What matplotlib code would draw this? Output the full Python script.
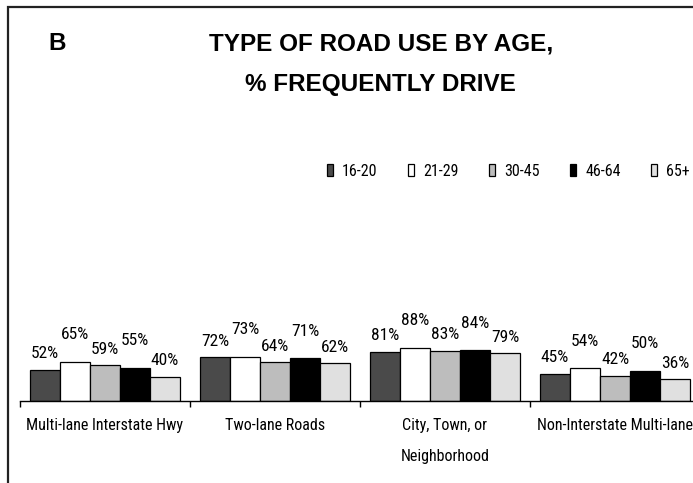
import matplotlib
matplotlib.use("Agg")
import matplotlib.pyplot as plt
from matplotlib.patches import Rectangle
import numpy as np

categories = ["Multi-lane Interstate Hwy", "Two-lane Roads", "City, Town, or\nNeighborhood", "Non-Interstate Multi-lane"]
age_groups = ["16-20", "21-29", "30-45", "46-64", "65+"]
values = {
    "16-20": [52, 72, 81, 45],
    "21-29": [65, 73, 88, 54],
    "30-45": [59, 64, 83, 42],
    "46-64": [55, 71, 84, 50],
    "65+":   [40, 62, 79, 36],
}
colors = ["#4a4a4a", "#ffffff", "#bdbdbd", "#000000", "#e0e0e0"]

plt.rcParams["font.family"] = ["Roboto Condensed", "DejaVu Sans"]
TITLE_FONT = ["Liberation Sans", "DejaVu Sans"]

W, H = 693, 483
fig = plt.figure(figsize=(W / 100, H / 100), dpi=100)

# axes: x from 20px to 700px, baseline at y=401px, 0.605 px per %
ax = fig.add_axes([20 / W, (H - 401) / H, 680 / W, 60.5 / H])

x = np.arange(len(categories))
bw = 0.1765
handles = []
for j, (g, c) in enumerate(zip(age_groups, colors)):
    pos = x + (j - 2) * bw
    bars = ax.bar(pos, values[g], width=bw, color=c, edgecolor="black", linewidth=0.9, label=g)
    handles.append(bars)
    off = 16 if j % 2 == 0 else 27
    for xi, v in zip(pos, values[g]):
        ax.annotate(f"{v}%", (xi, v), xytext=(0, off), textcoords="offset pixels",
                    ha="center", va="center", fontsize=12.5, annotation_clip=False)

ax.set_xlim(-0.5, 3.5)
ax.set_ylim(0, 100)
for s in ["top", "right", "left"]:
    ax.spines[s].set_visible(False)
ax.spines["bottom"].set_linewidth(1.0)
ax.set_yticks([])
ax.set_xticks([-0.5, 0.5, 1.5, 2.5, 3.5])
ax.set_xticklabels([])
ax.tick_params(axis="x", which="major", length=4.3, width=1, direction="out")
ax.set_xticks(x, minor=True)
ax.set_xticklabels(categories, minor=True, fontsize=11.5, linespacing=2.3)
ax.tick_params(axis="x", which="minor", length=0, pad=12.5)
for lbl in ax.get_xticklabels(minor=True):
    lbl.set_verticalalignment("top")

# legend
fig.legend(handles=handles, labels=age_groups, loc="center left",
           bbox_to_anchor=(327 / W, 1 - 171 / H), ncol=5, frameon=False,
           fontsize=11.5, handlelength=0.35, handleheight=0.7, handletextpad=0.6,
           columnspacing=1.9, borderpad=0, borderaxespad=0)

# titles
fig.text(48 / W, 1 - 44 / H, "B", fontsize=17.5, fontweight="bold", ha="left", va="center",
         family=TITLE_FONT)
fig.text(381 / W, 1 - 44 / H, "TYPE OF ROAD USE BY AGE,", fontsize=17.5, fontweight="bold",
         ha="center", va="center", family=TITLE_FONT)
fig.text(380 / W, 1 - 84.5 / H, "% FREQUENTLY DRIVE", fontsize=17.5, fontweight="bold",
         ha="center", va="center", family=TITLE_FONT)

# outer frame (left and top edges visible)
fig.patches.append(Rectangle((8 / W, -0.1), 1.2, 1 - 7 / H + 0.1, transform=fig.transFigure,
                             fill=False, edgecolor="#222222", linewidth=1.6))

fig.savefig("out.png", dpi=100)
